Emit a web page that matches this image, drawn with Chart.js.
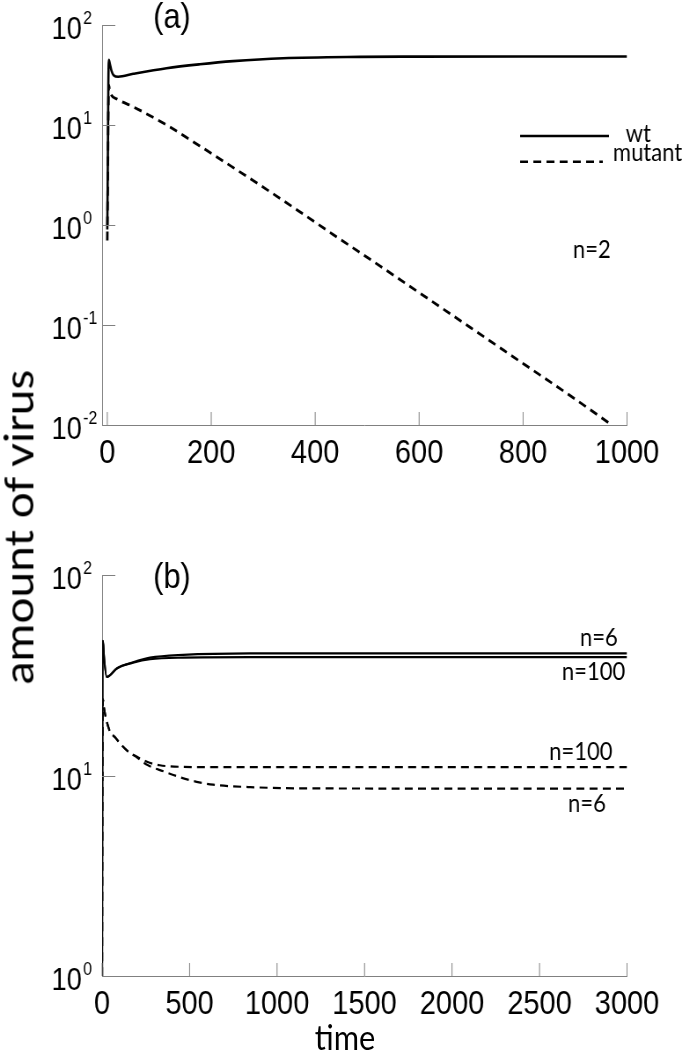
<!DOCTYPE html>
<html>
<head>
<meta charset="utf-8">
<script src="https://cdn.jsdelivr.net/npm/chart.js@4.4.1/dist/chart.umd.min.js"></script>
<style>
  html, body { margin: 0; padding: 0; background: #fff; }
  #fig { position: relative; width: 782px; height: 1050px; transform: scaleX(0.88); transform-origin: 0 0; }
  canvas { position: absolute; left: 0; }
  #c1 { top: 0; }
  #c2 { top: 525px; }
  .lbl { position: absolute; color: #000; white-space: nowrap; font-family: Lato, "Open Sans", sans-serif; }
  #ytitle { left: 20px; top: 527px; font-size: 46px; transform: translate(-50%, -50%) rotate(-90deg); }
  #xtitle { left: 392px; top: 1019px; font-size: 35px; line-height: 35px; transform: translateX(-50%); }
</style>
</head>
<body>
<div id="fig">
  <canvas id="c1" width="782" height="525"></canvas>
  <canvas id="c2" width="782" height="525"></canvas>
  <div class="lbl" id="ytitle">amount of virus</div>
  <div class="lbl" id="xtitle">time</div>
</div>
<script>
// panel (a), n=2, time 0..1000
const timeWtA = [0, 1, 2, 3, 5, 8, 12, 21, 50, 114, 178, 242, 338, 486, 600, 800, 1000];
const wtA     = [0.9, 4, 25, 45, 41, 35, 31.5, 30.4, 32.5, 37, 40.5, 43.5, 46.5, 48, 48.3, 48.5, 48.5];
const timeMutA = [0, 1, 2, 3, 5, 20, 50, 114, 178, 242, 307, 371, 435, 499, 563, 700, 800, 900, 965];
const mutA     = [0.7, 3, 14, 25, 21.5, 18, 15.2, 10, 6.17, 3.76, 2.26, 1.35, 0.80, 0.479, 0.285, 0.0933, 0.0412, 0.0182, 0.0105];
const xTicksA = [0, 200, 400, 600, 800, 1000];
const yTicksA = [0.01, 0.1, 1, 10, 100];

// panel (b), n=6 and n=100, time 0..3000
const timeWtB = [0, 2, 5, 10, 27, 86, 177, 274, 463, 846, 1500, 3000];
const wt6B    = [1, 30, 47, 40, 31, 34.3, 36.7, 38.7, 40.0, 40.7, 40.7, 40.7];
const wt100B  = [1, 30, 47, 40, 31, 34.3, 36.5, 38.0, 38.7, 38.9, 38.9, 38.9];
const timeMut100B = [0, 2, 5, 10, 40, 74, 143, 200, 257, 330, 450, 700, 3000];
const mut100B     = [1, 12, 24, 22, 17, 15.5, 13.3, 12.4, 11.7, 11.25, 11.05, 11.0, 11.0];
const timeMut6B = [0, 2, 5, 10, 40, 74, 143, 200, 257, 350, 446, 540, 634, 846, 1200, 3000];
const mut6B     = [1, 12, 24, 22, 17, 15.5, 13.3, 12.3, 11.3, 10.5, 9.8, 9.3, 9.0, 8.75, 8.62, 8.6];
const xTicksB = [0, 500, 1000, 1500, 2000, 2500, 3000];
const yTicksB = [1, 10, 100];

const AXIS_GREY = '#808080';
const NOTE_FONT = 'Lato, "Open Sans", sans-serif';
const TICK_FONT = '"Liberation Sans", Arial, sans-serif';

function pts(xs, ys) {
  return xs.map((x, i) => ({ x: x, y: ys[i] }));
}

function line(data, dashed, width) {
  return {
    data: data,
    borderColor: '#000',
    borderWidth: width,
    borderDash: dashed ? [9, 6] : [],
    pointRadius: 0,
    cubicInterpolationMode: 'monotone',
    fill: false
  };
}

// inward tick marks, 10^n labels and the text notes
const decadePlugin = {
  id: 'decades',
  afterDraw(chart, args, opts) {
    const ctx = chart.ctx;
    const xs = chart.scales.x, ys = chart.scales.y, a = chart.chartArea;
    ctx.save();
    ctx.strokeStyle = AXIS_GREY;
    ctx.lineWidth = 1;
    ctx.setLineDash([]);
    ctx.beginPath();
    xs.ticks.forEach(t => {
      const px = xs.getPixelForValue(t.value);
      ctx.moveTo(px, a.bottom);
      ctx.lineTo(px, a.bottom - 13);
    });
    ys.ticks.forEach(t => {
      const py = Math.round(ys.getPixelForValue(t.value)) + 0.5;
      ctx.moveTo(a.left, py);
      ctx.lineTo(a.left + 15, py);
    });
    ctx.stroke();

    ctx.fillStyle = '#000';
    ctx.textBaseline = 'alphabetic';
    ys.ticks.forEach(t => {
      const py = ys.getPixelForValue(t.value);
      const e = Math.round(Math.log10(t.value));
      ctx.font = '31px ' + TICK_FONT;
      ctx.textAlign = 'right';
      ctx.fillText('10', 93, py + 14);
      ctx.font = '18px ' + TICK_FONT;
      ctx.textAlign = 'left';
      ctx.fillText(String(e), 94.5, py - 1);
    });

    (opts.notes || []).forEach(n => {
      ctx.font = n.font;
      ctx.textAlign = 'left';
      ctx.fillText(n.text, n.x, n.y);
    });
    (opts.keys || []).forEach(k => {
      ctx.strokeStyle = '#000';
      ctx.lineWidth = 2.5;
      ctx.setLineDash(k.dash);
      ctx.beginPath();
      ctx.moveTo(k.x0, k.y);
      ctx.lineTo(k.x1, k.y);
      ctx.stroke();
    });
    ctx.restore();
  }
};

function makeChart(id, datasets, xMin, xMax, xTicks, yMin, yMax, yTicks, pad, xHeight, notes, keys) {
  return new Chart(document.getElementById(id).getContext('2d'), {
    type: 'line',
    data: { datasets: datasets },
    plugins: [decadePlugin],
    options: {
      responsive: false,
      animation: false,
      layout: { padding: pad },
      plugins: {
        legend: { display: false },
        tooltip: { enabled: false },
        decades: { notes: notes, keys: keys }
      },
      scales: {
        x: {
          type: 'linear',
          min: xMin,
          max: xMax,
          afterBuildTicks: s => { s.ticks = xTicks.map(v => ({ value: v })); },
          afterFit: s => { s.height = xHeight; },
          grid: { display: false },
          border: { display: true, color: AXIS_GREY, width: 1 },
          ticks: {
            autoSkip: false,
            maxRotation: 0,
            padding: 1,
            color: '#000',
            font: { family: TICK_FONT, size: 33 },
            callback: v => String(v)
          }
        },
        y: {
          type: 'logarithmic',
          min: yMin,
          max: yMax,
          afterBuildTicks: s => { s.ticks = yTicks.map(v => ({ value: v })); },
          afterFit: s => { s.width = 116; },
          grid: { display: false },
          border: { display: true, color: AXIS_GREY, width: 1 },
          ticks: { display: false }
        }
      }
    }
  });
}

const labelFont = '35px ' + TICK_FONT;
const noteFont = '25px ' + NOTE_FONT;
const keyFont = '25px ' + NOTE_FONT;

makeChart('c1',
  [line(pts(timeWtA, wtA), false, 2.6), line(pts(timeMutA, mutA), true, 2.8)],
  -10, 1000, xTicksA, 0.01, 100, yTicksA,
  { left: 0, right: 69.5, top: 25, bottom: 0 }, 100,
  [
    { text: '(a)', x: 174, y: 28, font: labelFont },
    { text: 'wt', x: 711, y: 142, font: keyFont },
    { text: 'mutant', x: 696.6, y: 161, font: keyFont },
    { text: 'n=2', x: 651, y: 258, font: noteFont }
  ],
  [
    { x0: 591, x1: 692, y: 136, dash: [] },
    { x0: 591, x1: 685, y: 161.7, dash: [9, 6] }
  ]
);

makeChart('c2',
  [
    line(pts(timeWtB, wt6B), false, 2.2),
    line(pts(timeWtB, wt100B), false, 2.2),
    line(pts(timeMut100B, mut100B), true, 2.2),
    line(pts(timeMut6B, mut6B), true, 2.2)
  ],
  0, 3000, xTicksB, 1, 100, yTicksB,
  { left: 0, right: 69.5, top: 50, bottom: 0 }, 74,
  [
    { text: '(b)', x: 174, y: 63, font: labelFont },
    { text: 'n=6', x: 659, y: 121, font: noteFont },
    { text: 'n=100', x: 638.6, y: 155, font: noteFont },
    { text: 'n=100', x: 624, y: 235, font: noteFont },
    { text: 'n=6', x: 645.5, y: 287, font: noteFont }
  ],
  []
);
</script>
</body>
</html>
